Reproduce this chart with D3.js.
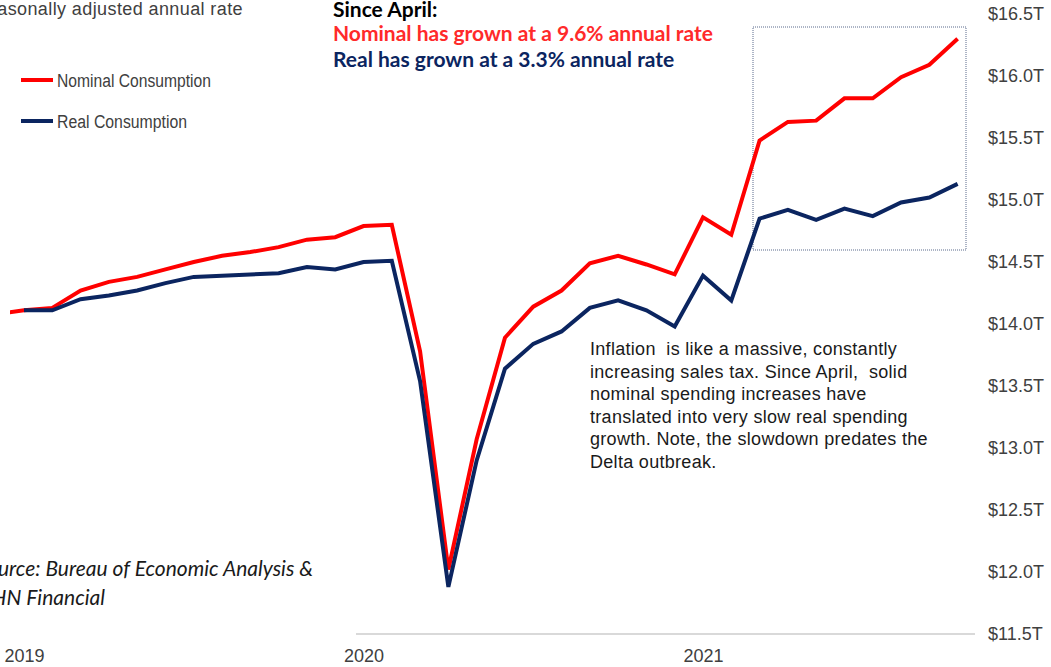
<!DOCTYPE html>
<html lang="en">
<head>
  <meta charset="UTF-8">
  <title>Nominal vs Real Consumption</title>
  <script src="https://d3js.org/d3.v7.min.js"></script>
  <style>
    body {
      margin: 0;
      background: #fff;
    }
    #chart {
      display: block;
    }
    text {
      font-family: "Liberation Sans", Arial, sans-serif;
    }
    text.lato {
      font-family: Lato, "Liberation Sans", sans-serif;
    }
    .axis text {
      font-size: 18px;
      fill: #404040;
    }
  </style>
</head>
<body>
  <svg id="chart" width="1051" height="667"></svg>

  <script>
    // month index 0 = Jan 2019
    const months = d3.range(-1, 34);
    const nominal = [14.08, 14.11, 14.13, 14.27, 14.34, 14.38, 14.44, 14.50, 14.55, 14.58, 14.62, 14.68, 14.70,
      14.79, 14.80, 13.78, 12.02, 13.07, 13.89, 14.14, 14.27, 14.49, 14.55, 14.48, 14.40,
      14.86, 14.72, 15.48, 15.63, 15.64, 15.82, 15.82, 15.99, 16.09, 16.30];
    const real = [null, 14.11, 14.11, 14.20, 14.23, 14.27, 14.33, 14.38, 14.39, 14.40, 14.41, 14.46, 14.44,
      14.50, 14.51, 13.54, 11.88, 12.90, 13.64, 13.84, 13.94, 14.13, 14.19, 14.11, 13.98,
      14.39, 14.19, 14.85, 14.92, 14.84, 14.93, 14.87, 14.98, 15.02, 15.13];
    const yearTicks = [0, 12, 24];
    const yearLabels = ["2019", "2020", "2021"];
    const yTicks = [11.5, 12.0, 12.5, 13.0, 13.5, 14.0, 14.5, 15.0, 15.5, 16.0, 16.5];
    const seriesNames = ["Nominal Consumption", "Real Consumption"];
    const colors = ["#ff0000", "#0b2560"];

    const svg = d3.select("#chart");

    const x = d3.scaleLinear()
      .domain([0, 24])
      .range([24, 703]);

    const y = d3.scaleLinear()
      .domain([11.5, 16.5])
      .range([634, 14]);

    // bottom rule
    svg.append("line")
      .attr("x1", 356)
      .attr("x2", 975)
      .attr("y1", y(11.5))
      .attr("y2", y(11.5))
      .attr("stroke", "#d9d9d9")
      .attr("stroke-width", 2);

    // right axis
    const yAxis = svg.append("g")
      .attr("class", "axis")
      .attr("transform", "translate(988,0)")
      .call(d3.axisRight(y).tickValues(yTicks).tickSize(0).tickPadding(0)
        .tickFormat(d => "$" + d.toFixed(1) + "T"));
    yAxis.select(".domain").remove();

    // year labels
    const xAxis = svg.append("g")
      .attr("class", "axis")
      .attr("transform", "translate(0,649)")
      .call(d3.axisBottom(x).tickValues(yearTicks).tickSize(0).tickPadding(0)
        .tickFormat((d, i) => yearLabels[i]));
    xAxis.select(".domain").remove();

    // highlight box
    svg.append("rect")
      .attr("x", 753)
      .attr("y", 27)
      .attr("width", 213)
      .attr("height", 223)
      .attr("fill", "none")
      .attr("stroke", "#5b6b8c")
      .attr("stroke-width", 1)
      .attr("stroke-dasharray", "1,1");

    svg.append("clipPath")
      .attr("id", "plotclip")
      .append("rect")
      .attr("x", 10)
      .attr("y", 0)
      .attr("width", 1000)
      .attr("height", 667);

    const line = d3.line()
      .defined(d => d[1] !== null)
      .x(d => x(d[0]))
      .y(d => y(d[1]));

    [nominal, real].forEach((vals, i) => {
      svg.append("path")
        .datum(months.map((m, j) => [m, vals[j]]))
        .attr("clip-path", "url(#plotclip)")
        .attr("fill", "none")
        .attr("stroke", colors[i])
        .attr("stroke-width", 4)
        .attr("stroke-linejoin", "miter")
        .attr("d", line);
    });

    // legend
    const legend = svg.selectAll(".legend")
      .data(seriesNames)
      .enter()
      .append("g")
      .attr("transform", (d, i) => `translate(21,${80 + i * 41})`);

    legend.append("line")
      .attr("x1", 0)
      .attr("x2", 32)
      .attr("stroke", (d, i) => colors[i])
      .attr("stroke-width", 4);

    legend.append("text")
      .attr("x", 36)
      .attr("y", 7)
      .attr("font-size", "18px")
      .attr("fill", "#404040")
      .attr("textLength", (d, i) => i === 0 ? 154 : 130)
      .attr("lengthAdjust", "spacingAndGlyphs")
      .text(d => d);

    // subtitle (cut off on the left, as in the source image)
    svg.append("text")
      .attr("x", 243)
      .attr("y", 15)
      .attr("text-anchor", "end")
      .attr("font-size", "18px")
      .attr("letter-spacing", "0.4px")
      .attr("fill", "#404040")
      .text("Seasonally adjusted annual rate");

    // headline
    const head = [
      ["Since April:", "#000000"],
      ["Nominal has grown at a 9.6% annual rate", "#ff2a2a"],
      ["Real has grown at a 3.3% annual rate", "#0b2560"]
    ];
    svg.selectAll(".head")
      .data(head)
      .enter()
      .append("text")
      .attr("class", "lato")
      .attr("x", 333)
      .attr("y", (d, i) => [17, 41, 67][i])
      .attr("font-weight", "bold")
      .attr("font-size", "21px")
      .attr("fill", d => d[1])
      .text(d => d[0]);

    // annotation
    const note = [
      "Inflation  is like a massive, constantly",
      "increasing sales tax. Since April,  solid",
      "nominal spending increases have",
      "translated into very slow real spending",
      "growth. Note, the slowdown predates the",
      "Delta outbreak."
    ];
    svg.selectAll(".note")
      .data(note)
      .enter()
      .append("text")
      .attr("x", 590)
      .attr("y", (d, i) => 355 + i * 22.6)
      .attr("font-size", "18px")
      .attr("letter-spacing", "0.3px")
      .attr("fill", "#1a1a1a")
      .style("white-space", "pre")
      .text(d => d);

    // source (cut off on the left, as in the source image)
    svg.append("text")
      .attr("class", "lato")
      .attr("x", 313)
      .attr("y", 576)
      .attr("text-anchor", "end")
      .attr("font-style", "italic")
      .attr("font-size", "21px")
      .attr("fill", "#1a1a1a")
      .text("Source: Bureau of Economic Analysis &");
    svg.append("text")
      .attr("class", "lato")
      .attr("x", 105)
      .attr("y", 605)
      .attr("text-anchor", "end")
      .attr("font-style", "italic")
      .attr("font-size", "21px")
      .attr("fill", "#1a1a1a")
      .text("FHN Financial");
  </script>
</body>
</html>
